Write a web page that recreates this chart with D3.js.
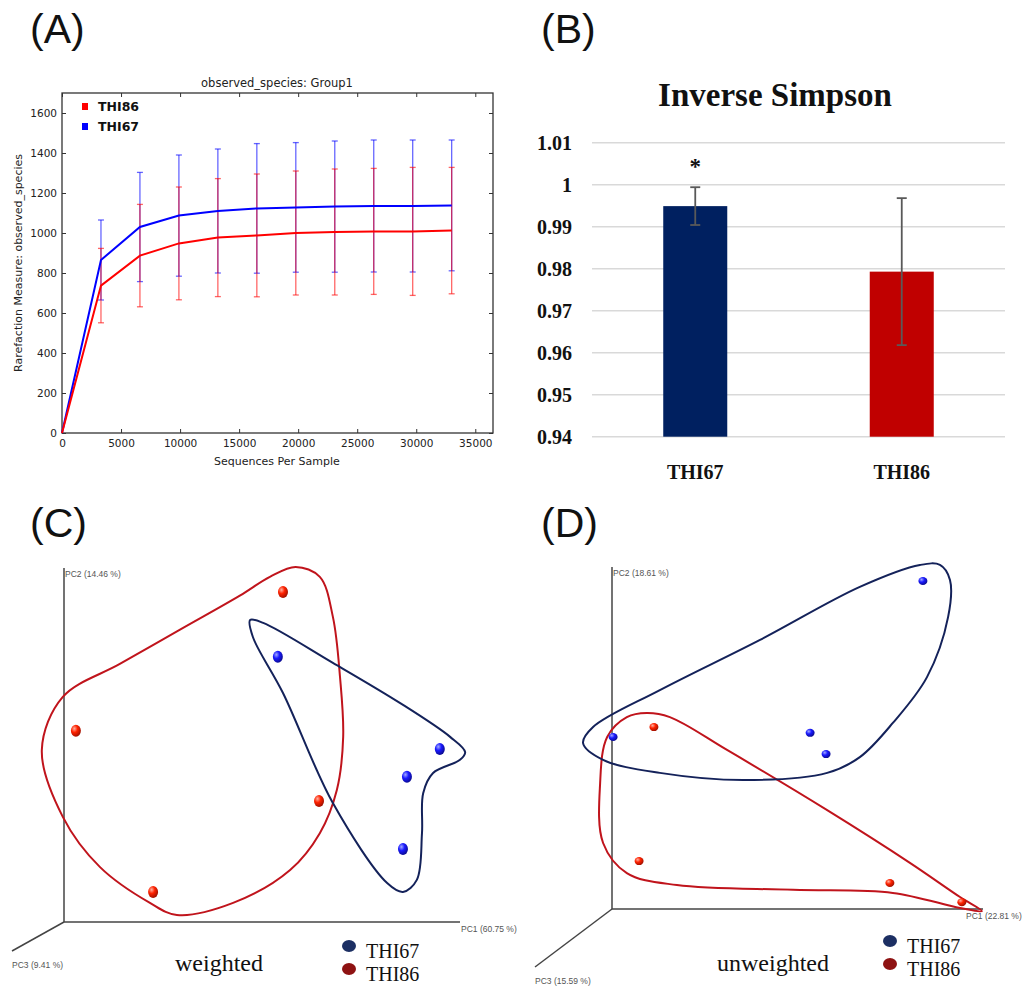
<!DOCTYPE html>
<html>
<head>
<meta charset="utf-8">
<script src="https://cdn.jsdelivr.net/npm/d3@7"></script>
<style>
body { margin: 0; background: #fff; }
</style>
</head>
<body>
<div class="figure"></div>
<script>
// (A) rarefaction, observed species
const seqDepth = [0, 3300, 6600, 9900, 13200, 16500, 19800, 23100, 26400, 29700, 33000];
const thi67Mean = [0, 865, 1030, 1087, 1110, 1123, 1128, 1132, 1135, 1135, 1138];
const thi67Err = [0, 200, 273, 303, 310, 324, 324, 328, 330, 330, 327];
const thi86Mean = [0, 737, 887, 948, 977, 988, 1000, 1005, 1008, 1008, 1012];
const thi86Err = [0, 186, 256, 282, 295, 307, 310, 315, 315, 320, 316];
const rareXTicks = [0, 5000, 10000, 15000, 20000, 25000, 30000, 35000];
const rareYTicks = [0, 200, 400, 600, 800, 1000, 1200, 1400, 1600];

// (B) inverse simpson
const groups = ["THI67", "THI86"];
const simpsonMean = [0.9949, 0.9793];
const simpsonErr = [0.0045, 0.0175];
const simpsonTicks = [0.94, 0.95, 0.96, 0.97, 0.98, 0.99, 1, 1.01];

// (C) weighted PCoA, projected coordinates (0-100 along drawn axes)
const wThi67 = [[54.0, 74.9], [94.9, 48.9], [86.6, 41.0], [85.6, 20.6]];
const wThi86 = [[55.3, 93.2], [3.0, 54.0], [64.4, 34.2], [22.5, 8.5]];
const wHull67 = [[47.0, 85.3], [50.3, 84.5], [67.9, 73.2], [84.8, 61.9], [97.5, 52.3], [101.3, 48.0], [100, 45.8], [93.2, 42.1], [90.7, 36.4], [90.4, 25.1], [89.1, 11.9], [85.6, 8.5], [81.6, 11.0], [67.9, 33.6], [55.3, 64.7], [47.7, 80.5]];
const wHull86 = [[52.0, 97.5], [58.5, 100.3], [64.6, 97.5], [67.9, 86.2], [69.7, 69.2], [70.5, 52.3], [68.9, 37.3], [64.6, 25.1], [57.1, 14.7], [42.7, 5.4], [28.5, 2.0], [21.7, 5.4], [9.1, 15.5], [-0.3, 29.7], [-5.6, 48.6], [-0.3, 63.6], [14.1, 72.9], [29.3, 82.6], [44.4, 92.2]];

// (D) unweighted PCoA
const uThi67 = [[83.8, 95.9], [53.4, 51.5], [57.7, 45.3], [0.3, 50.3]];
const uThi86 = [[11.3, 53.2], [7.3, 14.0], [74.9, 7.6], [94.3, 2.0]];
const uHull67 = [[88.4, 100.6], [91.1, 96.2], [90.6, 85.4], [84.9, 67.8], [75.7, 54.4], [66.8, 44.4], [58.0, 39.8], [35.3, 37.7], [12.9, 39.8], [-2.4, 43.6], [-7.8, 48.5], [-5.1, 53.2], [12.9, 64.0], [39.9, 78.7], [66.8, 94.2], [83.0, 100.6]];
const uHull86 = [[9.4, 57.3], [15.6, 56.1], [31.0, 46.5], [58.0, 28.9], [80.3, 13.5], [93.8, 3.5], [99.7, -0.6], [93.8, 0.3], [75.7, 4.7], [48.8, 5.6], [17.5, 7.0], [4.0, 10.5], [-2.4, 19.3], [-3.2, 36.8], [-1.3, 50.3], [4.0, 56.1]];

const svg = d3.select(".figure")
  .append("svg")
  .attr("width", 1025)
  .attr("height", 987)
  .style("font-family", "'DejaVu Sans', sans-serif");

svg.append("rect").attr("width", 1025).attr("height", 987).attr("fill", "#fff");

// panel letters
[["(A)", 30, 43], ["(B)", 541, 43], ["(C)", 30, 537], ["(D)", 541, 537]].forEach(p => {
  svg.append("text")
    .attr("x", p[1]).attr("y", p[2])
    .attr("font-family", "'Liberation Sans', Arial, sans-serif")
    .attr("font-size", 41)
    .attr("fill", "#111")
    .text(p[0]);
});

// ---------- (A) ----------
const ax = d3.scaleLinear().domain([0, 36500]).range([62, 493]);
const ay = d3.scaleLinear().domain([0, 1700]).range([433, 93]);
const gA = svg.append("g").attr("font-size", 10.5).attr("fill", "#222");

gA.append("g")
  .attr("transform", "translate(0,433)")
  .call(d3.axisBottom(ax).tickValues(rareXTicks).tickSize(-4).tickPadding(7).tickFormat(d3.format("d")));
gA.append("g")
  .attr("transform", "translate(62,0)")
  .call(d3.axisLeft(ay).tickValues(rareYTicks).tickSize(-4).tickPadding(5).tickFormat(d3.format("d")));
gA.append("g")
  .attr("transform", "translate(0,93)")
  .call(d3.axisTop(ax).tickValues(rareXTicks).tickSize(-4).tickFormat(""));
gA.append("g")
  .attr("transform", "translate(493,0)")
  .call(d3.axisRight(ay).tickValues(rareYTicks).tickSize(-4).tickFormat(""));
gA.selectAll(".tick text").attr("font-size", 10.5).attr("fill", "#222").attr("font-family", "'DejaVu Sans', sans-serif");
gA.selectAll(".domain").remove();
gA.selectAll(".tick line").attr("stroke", "#333");
gA.append("rect")
  .attr("x", 62).attr("y", 93).attr("width", 431).attr("height", 340)
  .attr("fill", "none").attr("stroke", "#333").attr("stroke-width", 1.3);

const rareSeries = [
  {name: "THI67", mean: thi67Mean, err: thi67Err, color: "#0000ff"},
  {name: "THI86", mean: thi86Mean, err: thi86Err, color: "#ff0000"}
];
rareSeries.forEach(s => {
  const pts = seqDepth.map((x, i) => ({x: x, m: s.mean[i], e: s.err[i]})).filter(d => d.e > 0);
  const eb = gA.append("g").attr("stroke", s.color).attr("stroke-opacity", 0.6).attr("stroke-width", 1.3);
  eb.selectAll("line.v").data(pts).enter().append("line")
    .attr("x1", d => ax(d.x)).attr("x2", d => ax(d.x))
    .attr("y1", d => ay(d.m - d.e)).attr("y2", d => ay(d.m + d.e));
  eb.selectAll("line.t").data(pts).enter().append("line")
    .attr("x1", d => ax(d.x) - 3).attr("x2", d => ax(d.x) + 3)
    .attr("y1", d => ay(d.m + d.e)).attr("y2", d => ay(d.m + d.e));
  eb.selectAll("line.b").data(pts).enter().append("line")
    .attr("x1", d => ax(d.x) - 3).attr("x2", d => ax(d.x) + 3)
    .attr("y1", d => ay(d.m - d.e)).attr("y2", d => ay(d.m - d.e));
});
rareSeries.forEach(s => {
  gA.append("path")
    .datum(seqDepth.map((x, i) => [x, s.mean[i]]))
    .attr("fill", "none")
    .attr("stroke", s.color)
    .attr("stroke-width", 2)
    .attr("d", d3.line().x(d => ax(d[0])).y(d => ay(d[1])));
});

gA.append("text").attr("x", 277).attr("y", 87).attr("text-anchor", "middle").attr("font-size", 11.5).text("observed_species: Group1");
gA.append("text").attr("x", 277).attr("y", 465).attr("text-anchor", "middle").attr("font-size", 11).text("Sequences Per Sample");
gA.append("text")
  .attr("transform", "translate(22,263) rotate(-90)")
  .attr("text-anchor", "middle").attr("font-size", 11)
  .text("Rarefaction Measure: observed_species");

// legend A
[["THI86", "#ff0000", 107], ["THI67", "#0000ff", 127]].forEach(l => {
  gA.append("rect").attr("x", 82).attr("y", l[2] - 4).attr("width", 6).attr("height", 7).attr("fill", l[1]);
  gA.append("text").attr("x", 98).attr("y", l[2] + 4)
    .attr("font-weight", "bold").attr("font-size", 12.5).attr("fill", "#111")
    .text(l[0]);
});

// ---------- (B) ----------
const bx = d3.scaleBand().domain(groups).range([592, 1005]).paddingInner(0.69).paddingOuter(0.345);
const by = d3.scaleLinear().domain([0.94, 1.01]).range([436.7, 142.7]);
const gB = svg.append("g").attr("font-family", "'Liberation Serif', 'Times New Roman', serif");
const barColors = ["#002060", "#c00000"];

gB.append("g").selectAll("line").data(simpsonTicks).enter().append("line")
  .attr("x1", 592).attr("x2", 1005)
  .attr("y1", d => by(d)).attr("y2", d => by(d))
  .attr("stroke", "#d9d9d9").attr("stroke-width", 1.5);

const yAxB = gB.append("g")
  .attr("transform", "translate(592,0)")
  .call(d3.axisLeft(by).tickValues(simpsonTicks).tickSize(0).tickPadding(20).tickFormat(d => String(+d.toFixed(2))));
yAxB.select(".domain").remove();
yAxB.selectAll("text")
  .attr("font-family", "'Liberation Serif', 'Times New Roman', serif")
  .attr("font-size", 20).attr("font-weight", "bold").attr("fill", "#111");

gB.selectAll("rect.bar").data(groups).enter().append("rect")
  .attr("x", d => bx(d))
  .attr("y", (d, i) => by(simpsonMean[i]))
  .attr("width", bx.bandwidth())
  .attr("height", (d, i) => by(0.94) - by(simpsonMean[i]))
  .attr("fill", (d, i) => barColors[i]);

const ebB = gB.append("g").attr("stroke", "#595959").attr("stroke-width", 1.8);
groups.forEach((g, i) => {
  const cx = bx(g) + bx.bandwidth() / 2;
  const hi = by(simpsonMean[i] + simpsonErr[i]), lo = by(simpsonMean[i] - simpsonErr[i]);
  ebB.append("line").attr("x1", cx).attr("x2", cx).attr("y1", hi).attr("y2", lo);
  ebB.append("line").attr("x1", cx - 5).attr("x2", cx + 5).attr("y1", hi).attr("y2", hi);
  ebB.append("line").attr("x1", cx - 5).attr("x2", cx + 5).attr("y1", lo).attr("y2", lo);
});

const xAxB = gB.append("g")
  .attr("transform", "translate(0,436.7)")
  .call(d3.axisBottom(bx).tickSize(0).tickPadding(28));
xAxB.select(".domain").remove();
xAxB.selectAll("text")
  .attr("font-family", "'Liberation Serif', 'Times New Roman', serif")
  .attr("font-size", 20).attr("font-weight", "bold").attr("fill", "#111");

gB.append("text")
  .attr("x", bx("THI67") + bx.bandwidth() / 2).attr("y", 174)
  .attr("text-anchor", "middle").attr("font-size", 23).attr("font-weight", "bold").attr("fill", "#111")
  .text("*");
gB.append("text")
  .attr("x", 775).attr("y", 106)
  .attr("text-anchor", "middle").attr("font-size", 33).attr("font-weight", "bold").attr("fill", "#111")
  .text("Inverse Simpson");

// ---------- (C) & (D) ----------
const defs = svg.append("defs");
[["sphereRed", "#ffb0a0", "#ff2200", "#a01000"], ["sphereBlue", "#a0a8ff", "#1a1aff", "#0a0a90"]].forEach(g => {
  const rg = defs.append("radialGradient").attr("id", g[0]).attr("cx", "35%").attr("cy", "32%").attr("r", "70%");
  rg.append("stop").attr("offset", "0%").attr("stop-color", g[1]);
  rg.append("stop").attr("offset", "45%").attr("stop-color", g[2]);
  rg.append("stop").attr("offset", "100%").attr("stop-color", g[3]);
});

function drawPcoa(o) {
  const g = svg.append("g");
  const x = d3.scaleLinear().domain([0, 100]).range([o.ox, o.right]);
  const y = d3.scaleLinear().domain([0, 100]).range([o.oy, o.top]);
  const axisCol = "#444";
  g.append("line").attr("x1", o.ox).attr("x2", o.ox).attr("y1", o.oy).attr("y2", o.top).attr("stroke", axisCol).attr("stroke-width", 1.5);
  g.append("line").attr("x1", o.ox).attr("x2", o.right).attr("y1", o.oy).attr("y2", o.oy).attr("stroke", axisCol).attr("stroke-width", 1.5);
  g.append("line").attr("x1", o.ox).attr("x2", o.pc3[0]).attr("y1", o.oy).attr("y2", o.pc3[1]).attr("stroke", axisCol).attr("stroke-width", 1.5);

  const lab = g.append("g")
    .attr("font-family", "'Liberation Sans Narrow', 'Liberation Sans', Arial, sans-serif")
    .attr("font-size", 8.5).attr("fill", "#555");
  lab.append("text").attr("x", o.ox + 1).attr("y", o.top + 9).text(o.labels[1]);
  lab.append("text").attr("x", o.right + o.pc1dx).attr("y", o.oy + 10).text(o.labels[0]);
  lab.append("text").attr("x", o.pc3[0]).attr("y", o.pc3[1] + 17).text(o.labels[2]);

  const hull = d3.line().x(d => x(d[0])).y(d => y(d[1])).curve(d3.curveCatmullRomClosed.alpha(0.5));
  g.append("path").attr("d", hull(o.hull86)).attr("fill", "none").attr("stroke", "#c0141c").attr("stroke-width", 2);
  g.append("path").attr("d", hull(o.hull67)).attr("fill", "none").attr("stroke", "#14225a").attr("stroke-width", 2);

  g.selectAll("ellipse.r").data(o.pts86).enter().append("ellipse")
    .attr("cx", d => x(d[0])).attr("cy", d => y(d[1]))
    .attr("rx", o.rx).attr("ry", o.ry)
    .attr("fill", "url(#sphereRed)");
  g.selectAll("ellipse.b").data(o.pts67).enter().append("ellipse")
    .attr("cx", d => x(d[0])).attr("cy", d => y(d[1]))
    .attr("rx", o.rx).attr("ry", o.ry)
    .attr("fill", "url(#sphereBlue)");

  const serif = "'Liberation Serif', 'Times New Roman', serif";
  g.append("text").attr("x", o.capX).attr("y", 971).attr("font-family", serif).attr("font-size", 24).attr("fill", "#111").text(o.caption);
  [["THI67", "#1c2f63", o.legY[0]], ["THI86", "#8e1212", o.legY[1]]].forEach(l => {
    g.append("ellipse").attr("cx", o.legX).attr("cy", l[2]).attr("rx", 7).attr("ry", 6).attr("fill", l[1]);
    g.append("text").attr("x", o.legX + 17).attr("y", l[2] + 12)
      .attr("font-family", serif).attr("font-size", 20).attr("fill", "#111").text(l[0]);
  });
}

drawPcoa({
  ox: 64, oy: 922, right: 460, top: 568, pc3: [12, 951], pc1dx: 1,
  labels: ["PC1 (60.75 %)", "PC2 (14.46 %)", "PC3 (9.41 %)"],
  pts67: wThi67, pts86: wThi86, hull67: wHull67, hull86: wHull86,
  rx: 5, ry: 6, caption: "weighted", capX: 175, legX: 349, legY: [946, 969]
});
drawPcoa({
  ox: 612, oy: 909, right: 983, top: 567, pc3: [535, 967], pc1dx: -17,
  labels: ["PC1 (22.81 %)", "PC2 (18.61 %)", "PC3 (15.59 %)"],
  pts67: uThi67, pts86: uThi86, hull67: uHull67, hull86: uHull86,
  rx: 4.5, ry: 4, caption: "unweighted", capX: 717, legX: 890, legY: [941, 964]
});
</script>
</body>
</html>
